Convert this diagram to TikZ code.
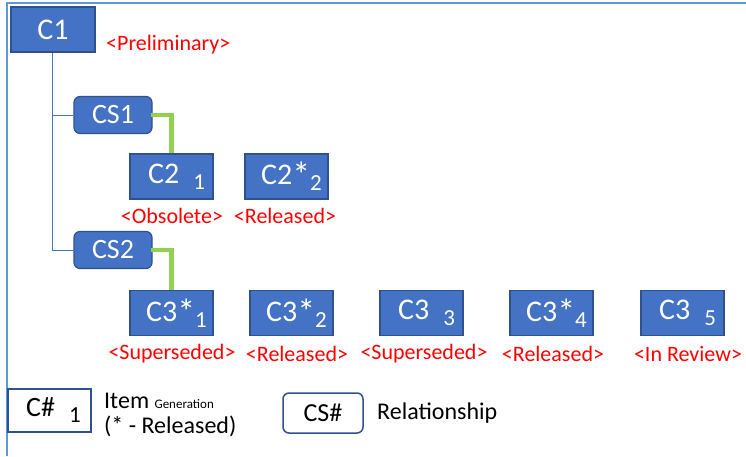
\documentclass[tikz,border=0pt]{standalone}
\usepackage{fontspec}
\setmainfont{Carlito}
\usetikzlibrary{positioning}
\definecolor{boxfill}{HTML}{4472C4}
\definecolor{boxedge}{HTML}{2F528F}
\definecolor{framec}{HTML}{5B9BD5}
\definecolor{linkc}{HTML}{92D050}
\definecolor{statec}{HTML}{FF0000}
\newcommand{\gsub}[1]{\raisebox{-6pt}{\fontsize{23}{23}\selectfont #1}}
\newcommand{\rel}{\raisebox{-3pt}{\fontsize{36}{36}\selectfont *}}
\tikzset{
  item/.style={draw=boxedge, line width=1.2pt, fill=boxfill, text=white, minimum width=83pt, minimum height=45pt, inner sep=0pt, font=\fontsize{30}{30}\selectfont},
  relbox/.style={draw=boxedge, line width=1.2pt, fill=boxfill, text=white, rounded corners=6pt, minimum width=78pt, minimum height=37pt, inner sep=0pt, font=\fontsize{28}{28}\selectfont},
  state/.style={text=statec, inner sep=0pt, font=\fontsize{22}{22}\selectfont},
  tree/.style={draw=boxfill, line width=0.8pt},
  link/.style={draw=linkc, line width=4.5pt},
}
\begin{document}
\begin{tikzpicture}[x=1pt,y=-1pt]
\useasboundingbox (0,0) rectangle (746,456);
% frame
\draw[framec, line width=2pt] (7,456) -- (7,3) -- (746,3);
% nodes
\node[item, minimum width=84pt] (c1) at (53,29.5) {C1};
\node[state, anchor=west] (p1) at (106,45) {<Preliminary>};
\node[relbox] (cs1) at (113,115) {CS1};
\node[relbox] (cs2) at (113,250) {CS2};
\node[item] (c21) at (171.5,176.5) {\hspace{10pt}C2\hspace{14pt}\gsub{1}};
\node[item] (c22) at (286.5,176.5) {\hspace{10pt}C2\rel\gsub{2}};
\node[state] (s21) at (172,216) {<Obsolete>};
\node[state] (s22) at (285,216) {<Released>};
\node[item] (c31) at (171.5,313) {\hspace{10pt}C3\rel\gsub{1}};
\node[item] (c32) at (291.5,313) {\hspace{10pt}C3\rel\gsub{2}};
\node[item] (c33) at (421.5,313) {\hspace{10pt}C3\hspace{14pt}\gsub{3}};
\node[item] (c34) at (551.5,313) {\hspace{10pt}C3\rel\gsub{4}};
\node[item] (c35) at (682.5,313) {\hspace{10pt}C3\hspace{14pt}\gsub{5}};
\node[state] (s31) at (172,354) {<Superseded>};
\node[state] (s32) at (297,354) {<Released>};
\node[state] (s33) at (424,354) {<Superseded>};
\node[state] (s34) at (553,354) {<Released>};
\node[state] (s35) at (688,354) {<In Review>};
% tree lines
\coordinate (t1) at (52,115);
\coordinate (t2) at (52,250);
\draw[tree] (c1.south -| t1) -- (t2) -- (cs2.west);
\draw[tree] (t1) -- (cs1.west);
% green links
\draw[link] ([xshift=-2pt]cs1.east) -| (c21.north);
\draw[link] ([xshift=-2pt]cs2.east) -| (c31.north);
% legend
\node[draw=boxedge, line width=1.5pt, fill=white, text=black, minimum width=83pt, minimum height=43pt, inner sep=0pt, font=\fontsize{28}{28}\selectfont] (lc) at (49.5,410.5) {\hspace{8pt}C\#\hspace{14pt}\gsub{1}};
\node[anchor=base west, inner sep=0pt, font=\fontsize{24}{24}\selectfont] (lt1) at (104,408) {Item {\fontsize{13}{13}\selectfont Generation}};
\node[anchor=base west, inner sep=0pt, font=\fontsize{24}{24}\selectfont] (lt2) at (104,433) {(* - Released)};
\node[draw=boxedge, line width=1.5pt, fill=white, text=black, rounded corners=6pt, minimum width=80pt, minimum height=40pt, inner sep=0pt, font=\fontsize{26}{26}\selectfont] (lr) at (323,413) {CS\#};
\node[anchor=west, inner sep=0pt, font=\fontsize{24}{24}\selectfont] (lrt) at (377,413) {Relationship};
\end{tikzpicture}
\end{document}
